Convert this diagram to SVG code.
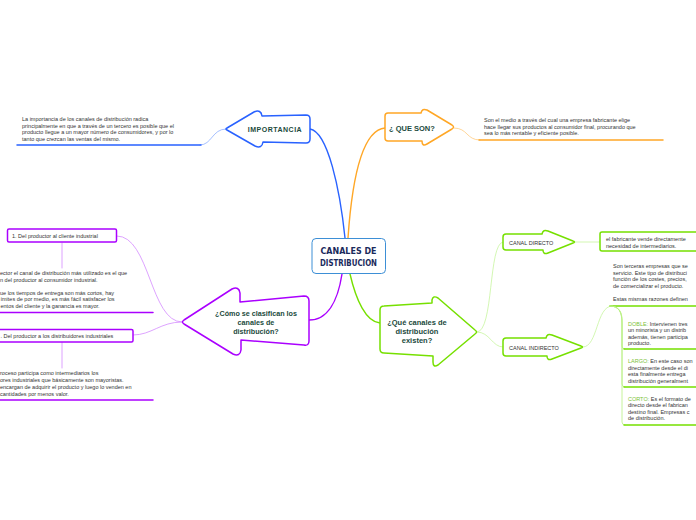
<svg xmlns="http://www.w3.org/2000/svg" width="696" height="520" viewBox="0 0 696 520">
<style>
.t{font-family:"Liberation Sans",Arial,sans-serif;font-size:5.5px;fill:#333}
.h{font-family:"Liberation Sans",Arial,sans-serif;font-weight:bold;fill:#1b4a3c}
.c{fill:none;stroke-linecap:round}
.n{fill:#fff;stroke-linejoin:round;stroke-width:1.5}
</style>
<rect width="696" height="520" fill="#fff"/>
<g id="connectors">
  <path class="c" d="M310,129 C328,132 340,190 345,238" stroke="#2962ff" stroke-width="1.4"/>
  <path class="c" d="M226,129 C212,129 212,145 200,145" stroke="#8fb0ff" stroke-width="0.8"/>
  <path class="c" d="M17,145 L201,145" stroke="#2962ff" stroke-width="1.5"/>
  <path class="c" d="M348,238 C352,180 362,130 385,128" stroke="#ffa726" stroke-width="1.4"/>
  <path class="c" d="M454,128 C468,128 466,140 480,140" stroke="#ffcc80" stroke-width="0.8"/>
  <path class="c" d="M479,140 L663,140" stroke="#ffa726" stroke-width="1.5"/>
  <path class="c" d="M342,274 C338,300 328,320 309,320" stroke="#aa00ff" stroke-width="1.4"/>
  <path class="c" d="M350,274 C356,300 366,322 380,323" stroke="#76e000" stroke-width="1.4"/>
  <path class="c" d="M182,322 C150,322 150,236 117,236" stroke="#d48cff" stroke-width="0.8"/>
  <path class="c" d="M182,322 C160,322 152,335 133,335" stroke="#d48cff" stroke-width="0.8"/>
  <path class="c" d="M62,243 L62,268" stroke="#d48cff" stroke-width="0.8"/>
  <path class="c" d="M0,312.5 L153,312.5" stroke="#aa00ff" stroke-width="1.5"/>
  <path class="c" d="M62,342 L62,368" stroke="#d48cff" stroke-width="0.8"/>
  <path class="c" d="M0,400 L153,400" stroke="#aa00ff" stroke-width="1.5"/>
  <path class="c" d="M477,332 C494,332 488,243 503,242" stroke="#c8f5a0" stroke-width="0.8"/>
  <path class="c" d="M477,332 C490,332 492,347 503,347" stroke="#c8f5a0" stroke-width="0.8"/>
  <path class="c" d="M575,242 L600,242" stroke="#c8f5a0" stroke-width="0.8"/>
  <path class="c" d="M583,347 C598,347 596,306 612,306" stroke="#c8f5a0" stroke-width="0.8"/>
  <path class="c" d="M610,306 L700,306" stroke="#76e000" stroke-width="1.5"/>
  <path class="c" d="M610,306 C619,306 622,312 622,320 L622,346 Q622,349 625,349" stroke="#b8f080" stroke-width="0.8"/>
  <path class="c" d="M610,306 C619,306 622,312 622,322 L622,384 Q622,387 625,387" stroke="#b8f080" stroke-width="0.8"/>
  <path class="c" d="M610,306 C619,306 622,312 622,324 L622,422 Q622,425 625,425" stroke="#b8f080" stroke-width="0.8"/>
  <path class="c" d="M624,349 L700,349 M624,387 L700,387 M624,425 L700,425" stroke="#76e000" stroke-width="1.5"/>
</g>
<g id="center">
  <rect x="312" y="238.5" width="73.5" height="35" rx="4" fill="#fff" stroke="#3d8fd6" stroke-width="1"/>
  <text x="348.5" y="254" text-anchor="middle" font-family="DejaVu Sans,sans-serif" font-weight="bold" font-size="8.5" fill="#1a2a5c" textLength="56" lengthAdjust="spacingAndGlyphs">CANALES DE</text>
  <text x="348.5" y="265.5" text-anchor="middle" font-family="DejaVu Sans,sans-serif" font-weight="bold" font-size="8.5" fill="#1a2a5c" textLength="57" lengthAdjust="spacingAndGlyphs">DISTRIBUCION</text>
</g>
<g id="importancia">
  <path class="n" stroke="#2962ff" d="M227,128 L254,112 Q261,109 262,116 L306,115 Q310,115 310,119 L310,139 Q310,143 306,143 L263,142 Q262,149 255,146 L227,130 Q225,129 227,128 Z"/>
  <text class="h" x="275" y="132" text-anchor="middle" font-size="7" letter-spacing="0.5">IMPORTANCIA</text>
  <text class="t"><tspan x="22" y="121">La importancia de los canales de distribución radica</tspan><tspan x="22" y="127.5">principalmente en que a través de un tercero es posible que el</tspan><tspan x="22" y="134">producto llegue a un mayor número de consumidores, y por lo</tspan><tspan x="22" y="140.5">tanto que crezcan las ventas del mismo.</tspan></text>
</g>
<g id="quees">
  <path class="n" stroke="#ffa726" d="M388,113 L421,113 Q422,108 427,110 L452,125 Q455,127 452,129 L427,144 Q422,147 422,141 L388,141 Q385,141 385,138 L385,116 Q385,113 388,113 Z"/>
  <text class="h" x="389" y="131" font-size="7.5">¿ QUE SON?</text>
  <text class="t"><tspan x="484" y="122">Son el medio a través del cual una empresa fabricante elige</tspan><tspan x="484" y="128.5">hace llegar sus productos al consumidor final, procurando que</tspan><tspan x="484" y="135">sea lo más rentable y eficiente posible.</tspan></text>
</g>
<g id="clasifican">
  <path class="n" stroke="#aa00ff" d="M184,320 L232,289 Q239,286 240,293 L240,302 L304,296 Q309,296 309,301 L309,341 Q309,346 304,345 L241,340 L241,350 Q240,357 233,354 L184,324 Q181,322 184,320 Z"/>
  <text class="h" font-size="7.2" text-anchor="middle"><tspan x="256" y="316">¿Cómo se clasifican los</tspan><tspan x="256" y="325">canales de</tspan><tspan x="256" y="334">distribución?</tspan></text>
</g>
<g id="productor-cliente">
  <rect x="7.5" y="229" width="109" height="13" rx="1.5" fill="#fff" stroke="#aa00ff" stroke-width="1.5"/>
  <text class="t" x="12" y="237.5">1. Del productor al cliente industrial</text>
  <text class="t"><tspan x="0" y="275">ector el canal de distribución más utilizado es el que</tspan><tspan x="0" y="281.5">n del productor al consumidor industrial.</tspan><tspan x="0" y="294.5">ue los tiempos de entrega son más cortos, hay</tspan><tspan x="0.5" y="301">ímites de por medio, es más fácil satisfacer los</tspan><tspan x="0.5" y="307.5">entos del cliente y la ganancia es mayor.</tspan></text>
</g>
<g id="productor-distribuidores">
  <rect x="-8" y="329.5" width="141" height="12.5" rx="1.5" fill="#fff" stroke="#aa00ff" stroke-width="1.5"/>
  <text class="t" x="0.5" y="337.8">. Del productor a los distribuidores industriales</text>
  <text class="t"><tspan x="0" y="375">roceso participa como intermediarios los</tspan><tspan x="0" y="381.5">ores industriales que básicamente son mayoristas.</tspan><tspan x="0" y="388.5">encargan de adquirir el producto y luego lo venden en</tspan><tspan x="0" y="395.5">cantidades por menos valor.</tspan></text>
</g>
<g id="canales-existen">
  <path class="n" stroke="#76e000" d="M384,306 L432,303 L432,300 Q433,295 438,298 L475,330 Q478,332 475,334 L438,365 Q433,368 433,362 L433,356 L384,353 Q380,353 380,349 L380,310 Q380,306 384,306 Z"/>
  <text class="h" font-size="7.5" text-anchor="middle"><tspan x="417" y="325">¿Qué canales de</tspan><tspan x="417" y="334">distribución</tspan><tspan x="417" y="343">existen?</tspan></text>
</g>
<g id="canal-directo">
  <path class="n" stroke="#76e000" d="M506,234 L542,234 Q543,229 548,231 L573,241 Q576,242 573,243 L548,253 Q543,255 543,250 L506,250 Q503,250 503,247 L503,237 Q503,234 506,234 Z"/>
  <text class="t" x="509" y="245" fill="#333">CANAL DIRECTO</text>
  <rect x="600" y="232" width="110" height="19" rx="2" fill="#fff" stroke="#76e000" stroke-width="1.5"/>
  <text class="t"><tspan x="606" y="241">el fabricante vende directamente</tspan><tspan x="606" y="247.5">necesidad de intermediarios.</tspan></text>
</g>
<g id="canal-indirecto">
  <path class="n" stroke="#76e000" d="M506,338 L546,338 Q547,333 552,335 L581,346 Q584,347 581,348 L552,359 Q547,361 547,356 L506,356 Q503,356 503,353 L503,341 Q503,338 506,338 Z"/>
  <text class="t" x="509" y="349.5">CANAL INDIRECTO</text>
  <text class="t"><tspan x="613" y="268">Son terceras empresas que se</tspan><tspan x="613" y="274.5">servicio. Este tipo de distribuci</tspan><tspan x="613" y="281">función de los costes, precios,</tspan><tspan x="613" y="287.5">de comercializar el producto.</tspan><tspan x="613" y="300.5">Estas mismas razones definen</tspan></text>
</g>
<g id="doble">
  <text class="t"><tspan x="628" y="325.5"><tspan fill="#7cc23a">DOBLE:</tspan> Intervienen tres</tspan><tspan x="628" y="332">un minorista y un distrib</tspan><tspan x="628" y="338.5">además, tienen participa</tspan><tspan x="628" y="345">producto.</tspan></text>
</g>
<g id="largo">
  <text class="t"><tspan x="628" y="363"><tspan fill="#7cc23a">LARGO:</tspan> En este caso son</tspan><tspan x="628" y="369.5">directamente desde el di</tspan><tspan x="628" y="376">esta finalmente entrega</tspan><tspan x="628" y="382.5">distribución generalment</tspan></text>
</g>
<g id="corto">
  <text class="t"><tspan x="628" y="400.5"><tspan fill="#7cc23a">CORTO:</tspan> Es el formato de</tspan><tspan x="628" y="407">directo desde el fabrican</tspan><tspan x="628" y="413.5">destino final. Empresas c</tspan><tspan x="628" y="420">de distribución.</tspan></text>
</g>
</svg>
